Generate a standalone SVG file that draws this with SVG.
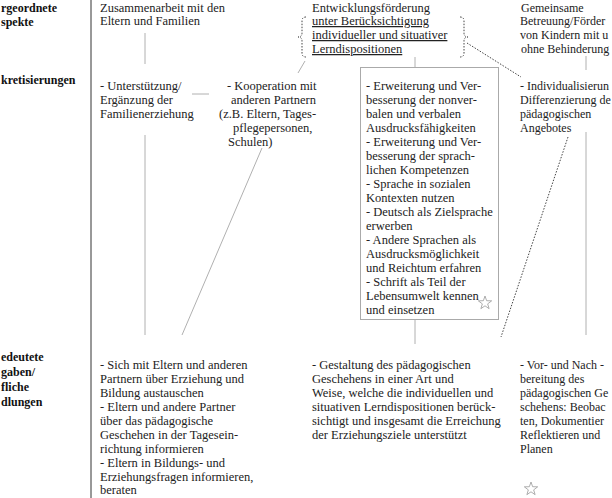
<svg xmlns="http://www.w3.org/2000/svg" width="612" height="498" viewBox="0 0 612 498">
<style>
  .t { font-family: "Liberation Serif", "Times New Roman", serif; font-size: 12.5px; fill: #222; }
  .r { font-size: 12px; }
  .b { font-family: "Liberation Serif", "Times New Roman", serif; font-size: 12px; font-weight: bold; fill: #111; }
  .u { text-decoration: underline; }
  .ln { stroke: #b0b0b0; stroke-width: 1; fill: none; }
  .dot { stroke: #444; stroke-width: 1; stroke-dasharray: 1.5 1.5; fill: none; }
  .star { fill: none; stroke: #999; stroke-width: 0.8; }
</style>
<defs>
  <path id="star" d="M0,-7 L1.65,-2.27 L6.66,-2.16 L2.67,0.87 L4.11,5.66 L0,2.8 L-4.11,5.66 L-2.67,0.87 L-6.66,-2.16 L-1.65,-2.27 Z"/>
</defs>
<rect width="612" height="498" fill="#fff"/>
<line x1="91" y1="0" x2="91" y2="498" stroke="#333" stroke-width="1"/>

<g id="labels">
  <text class="b"><tspan x="1" y="12">rgeordnete</tspan><tspan x="1" y="26">spekte</tspan></text>
  <text class="b" x="1" y="84">kretisierungen</text>
  <text class="b"><tspan x="1" y="361">edeutete</tspan><tspan x="1" y="376">gaben/</tspan><tspan x="1" y="391">fliche</tspan><tspan x="1" y="406">dlungen</tspan></text>
</g>

<g id="connectors">
  <line class="ln" x1="145" y1="33" x2="145" y2="64"/>
  <line class="ln" x1="192" y1="94" x2="209" y2="94"/>
  <line class="ln" x1="145" y1="135" x2="145" y2="335"/>
  <line class="ln" x1="262" y1="148" x2="182" y2="335"/>
  <line class="ln" x1="305" y1="61" x2="298" y2="73"/>
  <line class="ln" x1="415" y1="57" x2="415" y2="67"/>
  <line class="ln" x1="415" y1="320" x2="415" y2="344"/>
  <line class="ln" x1="586" y1="56" x2="586" y2="70"/>
  <line class="ln" x1="586" y1="132" x2="586" y2="335"/>
  <line class="dot" x1="467" y1="43" x2="521" y2="77"/>
  <line class="dot" x1="568" y1="137" x2="501" y2="337"/>
  <path class="dot" d="M306,17 Q302,17 302,21 L302,33 Q302,37 298,37 Q302,37 302,41 L302,53 Q302,57 306,57"/>
  <path class="dot" d="M460,17 Q464,17 464,21 L464,33 Q464,37 468,37 Q464,37 464,41 L464,53 Q464,57 460,57"/>
</g>

<g id="n-eltern">
  <text class="t"><tspan x="100" y="12">Zusammenarbeit mit den</tspan><tspan x="100" y="25">Eltern und Familien</tspan></text>
</g>
<g id="n-entwicklung">
  <text class="t"><tspan x="312" y="12">Entwicklungsförderung</tspan><tspan class="u" x="312" y="25">unter Berücksichtigung</tspan><tspan class="u" x="312" y="39">individueller und situativer</tspan><tspan class="u" x="312" y="53">Lerndispositionen</tspan></text>
</g>
<g id="n-gemeinsam">
  <text class="t r"><tspan x="521" y="12">Gemeinsame</tspan><tspan x="520" y="25">Betreuung/Förder</tspan><tspan x="520" y="39">von Kindern mit u</tspan><tspan x="521" y="53">ohne Behinderung</tspan></text>
</g>

<g id="n-unterstuetzung">
  <text class="t"><tspan x="100" y="90">- Unterstützung/</tspan><tspan x="100" y="104">Ergänzung der</tspan><tspan x="100" y="118">Familienerziehung</tspan></text>
</g>
<g id="n-kooperation">
  <text class="t"><tspan x="227" y="90">- Kooperation mit</tspan><tspan x="231" y="104">anderen Partnern</tspan><tspan x="219" y="118">(z.B. Eltern, Tages-</tspan><tspan x="233" y="132">pflegepersonen,</tspan><tspan x="228" y="146">Schulen)</tspan></text>
</g>
<g id="n-sprache">
  <rect x="360.5" y="67.5" width="138" height="252" fill="none" stroke="#aaa" stroke-width="1"/>
  <text class="t">
    <tspan x="366" y="90">- Erweiterung und Ver-</tspan>
    <tspan x="366" y="104">besserung der nonver-</tspan>
    <tspan x="366" y="118">balen und verbalen</tspan>
    <tspan x="366" y="132">Ausdrucksfähigkeiten</tspan>
    <tspan x="366" y="146">- Erweiterung und Ver-</tspan>
    <tspan x="366" y="160">besserung der sprach-</tspan>
    <tspan x="366" y="174">lichen Kompetenzen</tspan>
    <tspan x="366" y="188">- Sprache in sozialen</tspan>
    <tspan x="366" y="202">Kontexten nutzen</tspan>
    <tspan x="366" y="216">- Deutsch als Zielsprache</tspan>
    <tspan x="366" y="230">erwerben</tspan>
    <tspan x="366" y="244">- Andere Sprachen als</tspan>
    <tspan x="366" y="258">Ausdrucksmöglichkeit</tspan>
    <tspan x="366" y="272">und Reichtum erfahren</tspan>
    <tspan x="366" y="286">- Schrift als Teil der</tspan>
    <tspan x="366" y="300">Lebensumwelt kennen</tspan>
    <tspan x="366" y="314">und einsetzen</tspan>
  </text>
  <use href="#star" class="star" x="485" y="303"/>
</g>
<g id="n-individual">
  <text class="t r"><tspan x="520" y="90">- Individualisierun</tspan><tspan x="520" y="104">Differenzierung de</tspan><tspan x="520" y="118">pädagogischen</tspan><tspan x="520" y="132">Angebotes</tspan></text>
</g>

<g id="n-austausch">
  <text class="t">
    <tspan x="100" y="369">- Sich mit Eltern und anderen</tspan>
    <tspan x="100" y="383">Partnern über Erziehung und</tspan>
    <tspan x="100" y="397">Bildung austauschen</tspan>
    <tspan x="100" y="411">- Eltern und andere Partner</tspan>
    <tspan x="100" y="425">über das pädagogische</tspan>
    <tspan x="100" y="439">Geschehen in der Tagesein-</tspan>
    <tspan x="100" y="453">richtung informieren</tspan>
    <tspan x="100" y="467">- Eltern in Bildungs- und</tspan>
    <tspan x="100" y="481">Erziehungsfragen informieren,</tspan>
    <tspan x="100" y="494">beraten</tspan>
  </text>
</g>
<g id="n-gestaltung">
  <text class="t">
    <tspan x="312" y="369">- Gestaltung des pädagogischen</tspan>
    <tspan x="312" y="383">Geschehens in einer Art und</tspan>
    <tspan x="312" y="397">Weise, welche die individuellen und</tspan>
    <tspan x="312" y="411">situativen Lerndispositionen berück-</tspan>
    <tspan x="312" y="425">sichtigt und insgesamt die Erreichung</tspan>
    <tspan x="312" y="439">der Erziehungsziele unterstützt</tspan>
  </text>
</g>
<g id="n-vorbereitung">
  <text class="t r">
    <tspan x="520" y="369">- Vor- und Nach -</tspan>
    <tspan x="520" y="383">bereitung des</tspan>
    <tspan x="520" y="397">pädagogischen Ge</tspan>
    <tspan x="520" y="411">schehens: Beobac</tspan>
    <tspan x="520" y="425">ten, Dokumentier</tspan>
    <tspan x="520" y="439">Reflektieren und</tspan>
    <tspan x="520" y="453">Planen</tspan>
  </text>
  <use href="#star" class="star" x="531" y="489"/>
</g>
</svg>
